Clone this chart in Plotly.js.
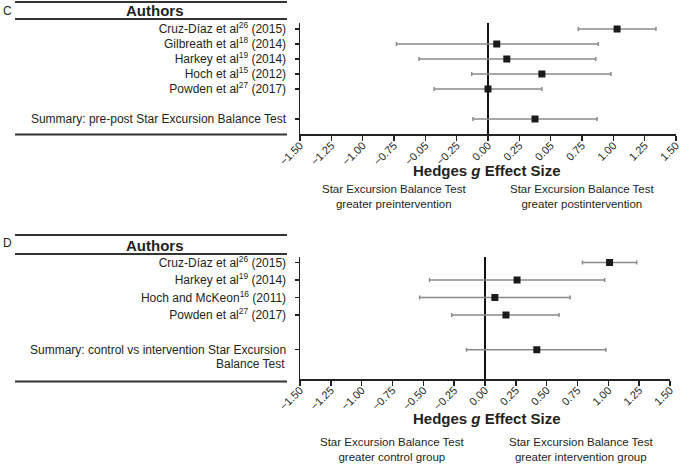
<!DOCTYPE html>
<html>
<head>
<meta charset="utf-8">
<script src="https://cdn.plot.ly/plotly-3.0.1.min.js"></script>
<style>html,body{margin:0;padding:0;background:#fff;}#chart{width:681px;height:471px;}</style>
</head>
<body>
<div id="chart"></div>
<script>
// ---- Panel C data (pre-post) ----
const cStudies = ["Cruz-Díaz et al<sup>26</sup> (2015)", "Gilbreath et al<sup>18</sup> (2014)", "Harkey et al<sup>19</sup> (2014)", "Hoch et al<sup>15</sup> (2012)", "Powden et al<sup>27</sup> (2017)", "Summary: pre-post Star Excursion Balance Test"];
const cEffect = [1.03, 0.07, 0.15, 0.43, 0.00, 0.375];
const cLower  = [0.72, -0.73, -0.55, -0.13, -0.43, -0.12];
const cUpper  = [1.34, 0.88, 0.86, 0.98, 0.43, 0.87];
const cRows   = [0, 1, 2, 3, 4, 6];

// ---- Panel D data (control vs intervention) ----
const dStudies = ["Cruz-Díaz et al<sup>26</sup> (2015)", "Harkey et al<sup>19</sup> (2014)", "Hoch and McKeon<sup>16</sup> (2011)", "Powden et al<sup>27</sup> (2017)", "Summary: control vs intervention Star Excursion"];
const dStudiesCont = "Balance Test";
const dEffect = [1.01, 0.26, 0.08, 0.17, 0.42];
const dLower  = [0.79, -0.45, -0.53, -0.27, -0.15];
const dUpper  = [1.23, 0.97, 0.69, 0.60, 0.98];
const dRows   = [0, 1, 2, 3, 5];

// ---- x ticks ----
const xTickVals = [-1.5, -1.25, -1.0, -0.75, -0.5, -0.25, 0, 0.25, 0.5, 0.75, 1.0, 1.25, 1.5];
const xTickTextC = ["−1.50", "−1.25", "−1.00", "−0.75", "−0.05", "−0.25", "0.00", "0.25", "0.05", "0.75", "1.00", "1.25", "1.50"];
const xTickTextD = ["−1.50", "−1.25", "−1.00", "−0.75", "−0.50", "−0.25", "0.00", "0.25", "0.50", "0.75", "1.00", "1.25", "1.50"];

const W = 681, H = 471;
const px = x => x / W;
const py = y => 1 - y / H;
const FONT = "Liberation Sans, Arial, sans-serif";
const TXT = "#231f20";

function sub(arr, base, sign) { return arr.map((v, i) => sign * (v - base[i])); }

const traces = [
  {
    type: "scatter", mode: "markers", x: cEffect, y: cRows, xaxis: "x", yaxis: "y",
    marker: {symbol: "square", size: 7, color: "#1a1a1a"},
    error_x: {type: "data", symmetric: false, array: sub(cUpper, cEffect, 1), arrayminus: sub(cEffect, cLower, 1), color: "#8a8a8a", thickness: 1.5, width: 2},
    hoverinfo: "none", showlegend: false
  },
  {
    type: "scatter", mode: "markers", x: dEffect, y: dRows, xaxis: "x2", yaxis: "y2",
    marker: {symbol: "square", size: 7, color: "#1a1a1a"},
    error_x: {type: "data", symmetric: false, array: sub(dUpper, dEffect, 1), arrayminus: sub(dEffect, dLower, 1), color: "#8a8a8a", thickness: 1.5, width: 2},
    hoverinfo: "none", showlegend: false
  }
];

function xax(domain, anchor, ticktext) {
  return {
    domain: domain, anchor: anchor, range: [-1.5, 1.5], tickvals: xTickVals, ticktext: ticktext,
    tickangle: -45, ticks: "outside", ticklen: 5, tickwidth: 1.5, tickcolor: "#222",
    ticklabelstandoff: -6, ticklabeloverflow: "allow",
    showline: true, linecolor: "#222", linewidth: 1.5, showgrid: false,
    zeroline: true, zerolinecolor: "#111", zerolinewidth: 2,
    tickfont: {family: FONT, size: 11, color: TXT}, fixedrange: true
  };
}
function yax(domain, anchor, range, rows, labels) {
  return {
    domain: domain, anchor: anchor, range: range, tickvals: rows, ticktext: labels,
    ticks: "outside", ticklen: 4, tickwidth: 1.5, tickcolor: "#222",
    showline: true, linecolor: "#222", linewidth: 1.5, showgrid: false, zeroline: false,
    ticklabelstandoff: 6, ticklabeloverflow: "allow",
    tickfont: {family: FONT, size: 12, color: TXT}, fixedrange: true
  };
}

const lineStyle = {color: "#333", width: 2};
const shapes = [
  [2, 15, 287], [19, 15, 287], [134.5, 15, 287],
  [235, 15, 287], [254, 15, 287], [381.5, 15, 287]
].map(([y, x0, x1]) => ({type: "line", xref: "paper", yref: "paper", x0: px(x0), x1: px(x1), y0: py(y), y1: py(y), line: lineStyle}));

function ann(text, x, y, size, extra) {
  return Object.assign({text: text, xref: "paper", yref: "paper", x: px(x), y: py(y), showarrow: false,
    xanchor: "center", yanchor: "middle", font: {family: FONT, size: size, color: TXT}}, extra || {});
}

const annotations = [
  ann("C", 1, 11, 12, {xanchor: "left"}),
  ann("<b>Authors</b>", 155, 11, 15),
  ann("<b>Hedges <i>g</i> Effect Size</b>", 487, 171, 15),
  ann("Star Excursion Balance Test<br>greater preintervention", 394, 196, 11.5, {align: "center"}),
  ann("Star Excursion Balance Test<br>greater postintervention", 582, 196, 11.5, {align: "center"}),
  ann("D", 1, 243, 12, {xanchor: "left"}),
  ann("<b>Authors</b>", 155, 245, 15),
  ann("<b>Hedges <i>g</i> Effect Size</b>", 487, 418, 15),
  ann("Star Excursion Balance Test<br>greater control group", 392, 449, 11.5, {align: "center"}),
  ann("Star Excursion Balance Test<br>greater intervention group", 581, 449, 11.5, {align: "center"}),
  {text: dStudiesCont, xref: "paper", yref: "y2", x: px(287), y: dRows[dRows.length - 1], yshift: -14,
   showarrow: false, xanchor: "right", yanchor: "middle", font: {family: FONT, size: 12, color: TXT}}
];

const layout = {
  width: W, height: H, margin: {l: 0, r: 0, t: 0, b: 0},
  paper_bgcolor: "#fff", plot_bgcolor: "#fff",
  showlegend: false,
  xaxis: xax([px(300), px(676)], "y", xTickTextC),
  yaxis: yax([py(134.3), py(22.7)], "x", [7.02, -0.42], cRows, cStudies),
  xaxis2: xax([px(300), px(670)], "y2", xTickTextD),
  yaxis2: yax([py(379), py(256.7)], "x2", [6.68, -0.34], dRows, dStudies),
  shapes: shapes,
  annotations: annotations,
  font: {family: FONT, color: TXT}
};

Plotly.newPlot("chart", traces, layout, {displayModeBar: false, staticPlot: true});
</script>
</body>
</html>
